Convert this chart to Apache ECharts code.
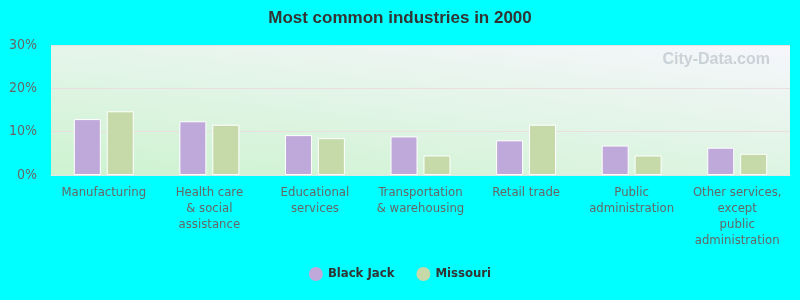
<!DOCTYPE html>
<html><head><meta charset="utf-8">
<script src="https://cdn.jsdelivr.net/npm/echarts@6/dist/echarts.min.js"></script>
<style>html,body{margin:0;padding:0;background:#00ffff;}#c{width:800px;height:300px;}</style>
</head><body><div id="c"></div>
<script>
const categories = ["Manufacturing","Health care\n& social\nassistance","Educational\nservices","Transportation\n& warehousing","Retail trade","Public\nadministration","Other services,\nexcept\npublic\nadministration"];
const blackJack = [12.9, 12.4, 9.2, 8.9, 8.0, 6.8, 6.3];
const missouri = [14.7, 11.6, 8.5, 4.5, 11.6, 4.5, 4.9];
const yTicks = [0, 10, 20, 30];
const font = "'Liberation Sans Narrow','DejaVu Sans Condensed',Arial,sans-serif";
const chart = echarts.init(document.getElementById('c'));
chart.setOption({
  backgroundColor: '#00ffff',
  animation: false,
  title: {text: 'Most common industries in 2000', left: 'center', top: 5,
    textStyle: {fontFamily: 'Liberation Sans, Arial, sans-serif', fontSize: 17, fontWeight: 'bold', color: '#333'}},
  grid: {left: 51, right: 10, top: 45, bottom: 125, show: true, borderWidth: 0,
    backgroundColor: new echarts.graphic.LinearGradient(0, 1, 0.034, -0.65, [
      {offset: 0, color: '#cdf3d0'}, {offset: 1, color: '#f6f6fc'}])},
  legend: {bottom: 14, left: 'center', icon: 'circle', itemWidth: 14, itemHeight: 14, itemGap: 22,
    itemStyle: {borderWidth: 0},
    textStyle: {fontFamily: font, fontSize: 13, fontWeight: 'bold', color: '#333'}},
  xAxis: {type: 'category', data: categories,
    axisLine: {lineStyle: {color: '#e0e8e8'}},
    axisTick: {length: 10, lineStyle: {color: '#e0e8e8'}},
    axisLabel: {fontFamily: font, fontSize: 13, color: '#666', margin: 10, lineHeight: 16, interval: 0}},
  yAxis: {type: 'value', min: 0, max: 30, interval: 10,
    axisLabel: {formatter: v => yTicks.includes(v) ? v + '%' : '', fontFamily: font, fontSize: 14, color: '#666', margin: 14},
    splitLine: {lineStyle: {color: '#eadede'}},
    axisLine: {show: false}, axisTick: {show: false}},
  graphic: [{type: 'text', right: 30, top: 52, style: {text: 'City-Data.com', fontSize: 16, fontWeight: 'bold', fill: 'rgba(170,180,190,0.55)', fontFamily: 'Liberation Sans, Arial'}}],
  series: [
    {name: 'Black Jack', type: 'bar', data: blackJack, barWidth: 27, barGap: '22%',
      itemStyle: {color: '#bfa8da', borderColor: '#fff', borderWidth: 1}},
    {name: 'Missouri', type: 'bar', data: missouri, barWidth: 27,
      itemStyle: {color: '#c5d9a9', borderColor: '#fff', borderWidth: 1}}
  ]
});
</script></body></html>
